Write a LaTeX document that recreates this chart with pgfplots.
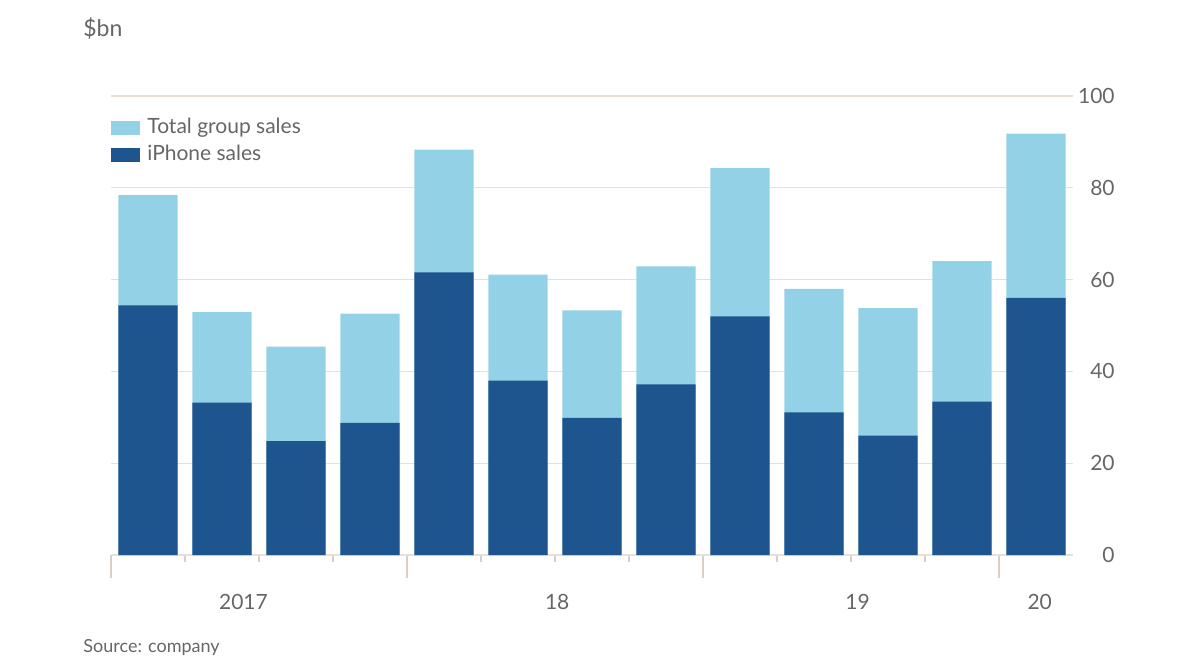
\documentclass[border=0pt]{standalone}
\usepackage{fontspec}
\setmainfont{Lato}
\usepackage{pgfplots}
\pgfplotsset{compat=1.18}
\definecolor{lightblue}{HTML}{93D2E6}
\definecolor{darkblue}{HTML}{1F558E}
\definecolor{gridc}{HTML}{E8E0D8}
\definecolor{tickc}{HTML}{D8CFC6}
\definecolor{textgray}{HTML}{666666}
\begin{document}
\begin{tikzpicture}[x=1pt,y=1pt]
\path[use as bounding box] (0,0) rectangle (600,330);
\node[anchor=west, font=\fontsize{11.5}{13}\selectfont, text=textgray, inner sep=0pt] at (41.5,316) {\$bn};
\node[anchor=west, font=\fontsize{9}{11}\selectfont, text=textgray, inner sep=0pt] at (41.5,6) {Source: company};
\begin{axis}[
  at={(55.5pt,52.5pt)}, anchor=south west,
  scale only axis, width=481pt, height=229.5pt,
  clip=false,
  xmin=-0.5, xmax=12.5, ymin=0, ymax=100,
  axis x line*=bottom, axis y line*=right,
  x axis line style={draw=gridc, line width=0.8pt, -},
  y axis line style={draw=none},
  xtick={-0.5,3.5,7.5,11.5},
  minor xtick={0.5,1.5,2.5,4.5,5.5,6.5,8.5,9.5,10.5},
  xticklabels={},
  tick align=outside,
  major tick length=11.5pt, minor tick length=3.5pt,
  x tick style={draw=tickc, line width=0.6pt},
  y tick style={draw=none},
  ytick={0,20,...,100},
  /pgf/number format/assume math mode=true,
  yticklabel style={anchor=east, inner sep=0pt, xshift=9.5pt,
    font=\fontsize{10.5}{12}\selectfont, text=textgray},
  ymajorgrids, grid style={draw=gridc, line width=0.6pt},
  legend style={at={(0,1)}, anchor=north west, yshift=-11pt,
    draw=none, fill=none, inner sep=0pt, row sep=4pt,
    /tikz/column sep=3.5pt,
    nodes={inner sep=0pt, anchor=west, text height=7.5pt, text depth=2pt},
    font=\fontsize{10.5}{12}\selectfont, text=textgray},
  legend cell align=left,
]
\addplot[ybar, bar width=0.8, bar shift=0pt, fill=lightblue, draw=none,
  legend image code/.code={\fill[lightblue] (0pt,-3.5pt) rectangle (14.5pt,3.5pt);}]
  coordinates {(0,78.4)(1,52.9)(2,45.4)(3,52.6)(4,88.3)(5,61.1)(6,53.3)(7,62.9)(8,84.3)(9,58.0)(10,53.8)(11,64.0)(12,91.8)};
\addlegendentry{Total group sales}
\addplot[ybar, bar width=0.8, bar shift=0pt, fill=darkblue, draw=none,
  legend image code/.code={\fill[darkblue] (0pt,-3.5pt) rectangle (14.5pt,3.5pt);}]
  coordinates {(0,54.4)(1,33.2)(2,24.8)(3,28.8)(4,61.6)(5,38.0)(6,29.9)(7,37.2)(8,52.0)(9,31.1)(10,26.0)(11,33.4)(12,56.0)};
\addlegendentry{iPhone sales}
\node[font=\fontsize{10.5}{12}\selectfont, text=textgray] at (axis cs:1.29,0) [yshift=-23.5pt] {2017};
\node[font=\fontsize{10.5}{12}\selectfont, text=textgray] at (axis cs:5.53,0) [yshift=-23.5pt] {18};
\node[font=\fontsize{10.5}{12}\selectfont, text=textgray] at (axis cs:9.59,0) [yshift=-23.5pt] {19};
\node[font=\fontsize{10.5}{12}\selectfont, text=textgray] at (axis cs:12.05,0) [yshift=-23.5pt] {20};
\end{axis}
\end{tikzpicture}
\end{document}
